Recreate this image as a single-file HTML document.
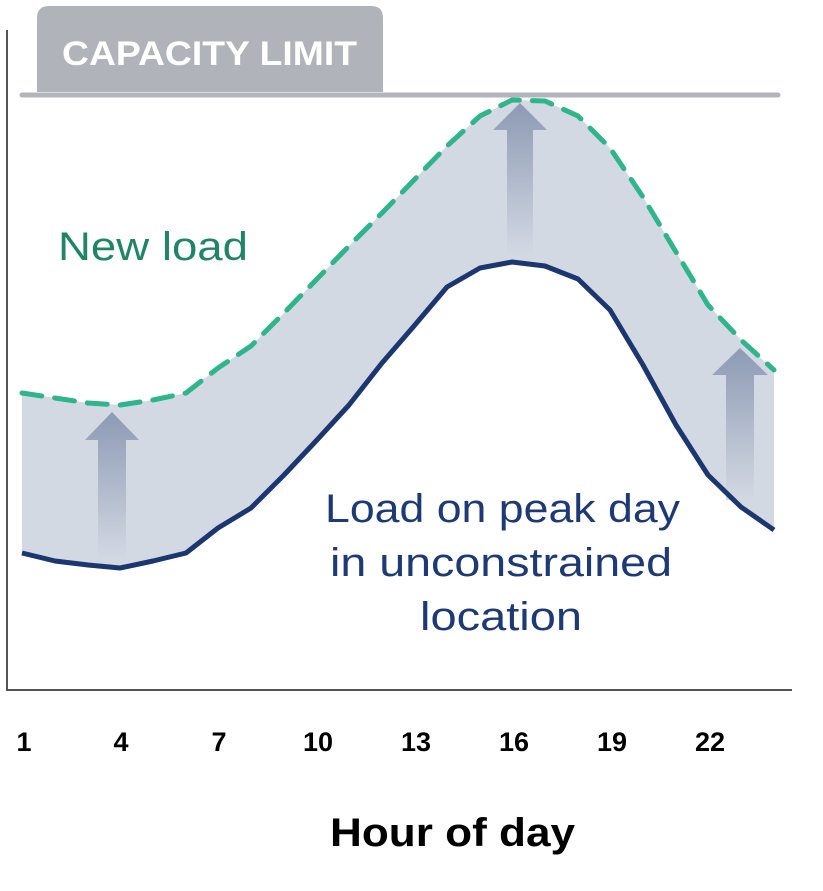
<!DOCTYPE html>
<html><head><style>body{margin:0;background:#fff}svg{display:block}</style></head><body>
<svg width="823" height="891" viewBox="0 0 823 891" xmlns="http://www.w3.org/2000/svg">
<defs>
<linearGradient id="g" x1="0" y1="0" x2="0" y2="1">
<stop offset="0" stop-color="#8d9ab4"/><stop offset="1" stop-color="#d3d9e3"/>
</linearGradient>
</defs>
<path d="M37,92 V18 Q37,6 49,6 H371 Q383,6 383,18 V92 Z" fill="#b0b4ba"/>
<text x="62" y="65" textLength="295" lengthAdjust="spacingAndGlyphs" font-family="Liberation Sans, sans-serif" font-weight="bold" font-size="34" fill="#fff">CAPACITY LIMIT</text>
<line x1="22" y1="95" x2="778" y2="95" stroke="#b2b6bc" stroke-width="5" stroke-linecap="round"/>
<path fill="#d3d9e3" d="M22,393 L55,398 88,403 120,405 153,400 186,393 218,368 251,346 284,313 316,280 349,246 382,213 414,180 447,146 480,116 512,100 545,101 578,116 610,148 643,197 676,252 708,305 741,340 774,370 L774,530 741,507 708,475 676,425 643,365 610,310 578,279 545,266 512,262 480,268 447,287 414,326 382,363 349,405 316,441 284,475 251,508 218,528 186,553 153,561 120,568 88,565 55,561 22,553 Z"/>
<g fill="url(#g)">
<path d="M112,412 L139,440 L126,440 L126,560 L98,560 L98,440 L85,440 Z"/>
<path d="M520,103 L547,130 L533,130 L533,255 L507,255 L507,130 L493,130 Z"/>
<path d="M740,348 L768,375 L754,375 L754,500 L726,500 L726,375 L712,375 Z"/>
</g>
<polyline fill="none" stroke="#2fb48c" stroke-width="5" stroke-dasharray="20,13" stroke-linecap="round" points="22,393 55,398 88,403 120,405 153,400 186,393 218,368 251,346 284,313 316,280 349,246 382,213 414,180 447,146 480,116 512,100 545,101 578,116 610,148 643,197 676,252 708,305 741,340 774,370"/>
<polyline fill="none" stroke="#1c3670" stroke-width="5" stroke-linejoin="round" points="22,553 55,561 88,565 120,568 153,561 186,553 218,528 251,508 284,475 316,441 349,405 382,363 414,326 447,287 480,268 512,262 545,266 578,279 610,310 643,365 676,425 708,475 741,507 774,530"/>
<line x1="7" y1="30" x2="7" y2="690" stroke="#555" stroke-width="2"/>
<line x1="6" y1="690" x2="792" y2="690" stroke="#555" stroke-width="2"/>
<text x="58" y="260" textLength="190" lengthAdjust="spacingAndGlyphs" font-family="Liberation Sans, sans-serif" font-size="40" fill="#218466">New load</text>
<g font-family="Liberation Sans, sans-serif" font-size="40" fill="#1e3a75" lengthAdjust="spacingAndGlyphs">
<text x="325" y="522" textLength="355" lengthAdjust="spacingAndGlyphs">Load on peak day</text>
<text x="330" y="576" textLength="342" lengthAdjust="spacingAndGlyphs">in unconstrained</text>
<text x="420" y="630" textLength="162" lengthAdjust="spacingAndGlyphs">location</text>
</g>
<g font-family="Liberation Sans, sans-serif" font-weight="bold" font-size="27" fill="#000" text-anchor="middle">
<text x="24" y="751">1</text><text x="121" y="751">4</text><text x="219" y="751">7</text><text x="318" y="751">10</text><text x="416" y="751">13</text><text x="514" y="751">16</text><text x="612" y="751">19</text><text x="710" y="751">22</text>
</g>
<text x="330" y="846" textLength="245" lengthAdjust="spacingAndGlyphs" font-family="Liberation Sans, sans-serif" font-weight="bold" font-size="40" fill="#000">Hour of day</text>
</svg>
</body></html>
